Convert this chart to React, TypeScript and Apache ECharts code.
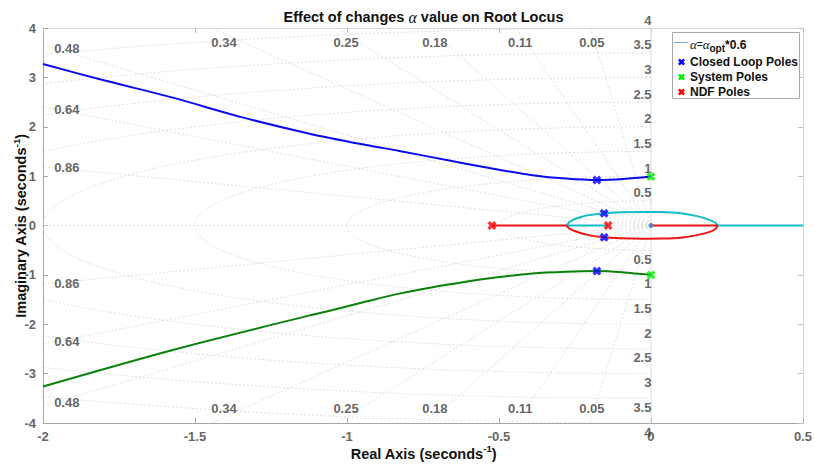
import React, { useEffect, useRef } from "react";
import * as echarts from "echarts";

const SANS = "'Liberation Sans', Arial, Helvetica, sans-serif";
const SERIF = "'Liberation Serif', 'Times New Roman', serif";

// s-plane grid: damping ratios (radial lines) and natural frequencies (circles)
const dampingRatios = [0.05, 0.11, 0.18, 0.25, 0.34, 0.48, 0.64, 0.86];
const naturalFrequencies = [0.5, 1, 1.5, 2, 2.5, 3, 3.5, 4];

// Complex-pair branches leaving the system poles at ±j
const upperBranch: number[][] = [
  [-2.0, 3.27], [-1.8, 2.94], [-1.573, 2.59], [-1.35, 2.2], [-1.123, 1.86],
  [-0.937, 1.63], [-0.828, 1.51], [-0.718, 1.38], [-0.609, 1.25], [-0.5, 1.13],
  [-0.39, 1.02], [-0.28, 0.95], [-0.178, 0.92], [-0.09, 0.94], [0, 0.99],
];
const lowerBranch: number[][] = [
  [-2.0, -3.26], [-1.573, -2.52], [-1.123, -1.82], [-1.047, -1.71], [-0.937, -1.54],
  [-0.828, -1.38], [-0.718, -1.25], [-0.609, -1.14], [-0.5, -1.045], [-0.39, -0.97],
  [-0.28, -0.935], [-0.178, -0.923], [-0.09, -0.95], [0, -1.0],
];

// Breakaway loop near the origin
const upperLoop: number[][] = [
  [-0.277, 0], [-0.27, 0.06], [-0.253, 0.125], [-0.23, 0.172], [-0.209, 0.205],
  [-0.154, 0.247], [-0.1, 0.266], [-0.03, 0.274], [0.03, 0.272], [0.098, 0.25],
  [0.152, 0.19], [0.196, 0.105], [0.213, 0.05], [0.22, 0],
];
const lowerLoop: number[][] = [
  [-0.277, 0], [-0.27, -0.055], [-0.253, -0.105], [-0.209, -0.19], [-0.154, -0.24],
  [-0.1, -0.26], [-0.03, -0.268], [0.04, -0.265], [0.098, -0.247], [0.152, -0.195],
  [0.196, -0.125], [0.213, -0.06], [0.22, 0],
];

// Real-axis segments of the loop branches
const cyanAxisLeft: number[][] = [[-0.141, 0], [-0.277, 0]];
const cyanAxisRight: number[][] = [[0.22, 0], [0.5, 0]];
const redAxisLeft: number[][] = [[-0.523, 0], [-0.277, 0]];
const redAxisRight: number[][] = [[0.22, 0], [0, 0]];

// Pole sets
const closedLoopPoles: number[][] = [[-0.178, 0.92], [-0.178, -0.923], [-0.154, 0.247], [-0.154, -0.24]];
const systemPoles: number[][] = [[0, 0.99], [0, -1.0]];
const ndfPoles: number[][] = [[-0.523, 0], [-0.141, 0]];
const originPoint: number[][] = [[0, 0]];

const CROSS_PTS = [
  [0, 2.6], [2.6, 0], [5, 2.4], [7.4, 0], [10, 2.6], [7.6, 5], [10, 7.4], [7.4, 10],
  [5, 7.6], [2.6, 10], [0, 7.4], [2.4, 5],
];
const CROSS = "path://M" + CROSS_PTS.map((p) => p.join(",")).join(" L") + " Z";

function crossPoints(cx: number, cy: number, s: number): number[][] {
  return CROSS_PTS.map(([x, y]) => [cx + ((x - 5) * s) / 10, cy + ((y - 5) * s) / 10]);
}

function buildOption() {
  const gridLine = { color: "#d8d8d8", width: 0.8, type: [2, 2] };
  const series: any[] = [];

  // damping-ratio rays (upper and lower half plane)
  dampingRatios.forEach((z) => {
    const w = Math.sqrt(1 - z * z);
    [1, -1].forEach((s) =>
      series.push({
        type: "line", data: [[0, 0], [-10 * z, s * 10 * w]], showSymbol: false,
        silent: true, lineStyle: gridLine, z: 1,
      })
    );
  });
  // ζ = 1 (negative real axis) and ζ = 0 (imaginary axis)
  series.push({ type: "line", data: [[0, 0], [-10, 0]], showSymbol: false, silent: true, lineStyle: gridLine, z: 1 });
  series.push({
    type: "line", data: [[0, -10], [0, 10]], showSymbol: false, silent: true,
    lineStyle: { color: "#dadada", width: 1 }, z: 1,
  });
  // natural-frequency semicircles in the left half plane
  naturalFrequencies.forEach((wn) => {
    const pts: number[][] = [];
    for (let deg = 90; deg <= 270; deg += 2) {
      const t = (deg * Math.PI) / 180;
      pts.push([wn * Math.cos(t), wn * Math.sin(t)]);
    }
    series.push({ type: "line", data: pts, showSymbol: false, silent: true, lineStyle: gridLine, z: 1 });
  });

  // grid labels
  const labelStyle = { color: "#3c3c3c", fontWeight: "bold", fontSize: 13, fontFamily: SANS };
  const dampingLabels: any[] = [];
  dampingRatios.forEach((z) => {
    const k = Math.sqrt(1 - z * z) / z;
    [1, -1].forEach((s) => {
      if (4 / k <= 2) {
        dampingLabels.push({ value: [(-1.05 * 3.7) / k, s * 3.7], name: String(z), label: { position: "inside" } });
      } else {
        dampingLabels.push({ value: [-1.965, s * 1.965 * k], name: String(z), label: { position: "right", distance: 0 } });
      }
    });
  });
  series.push({
    type: "scatter", data: dampingLabels, symbolSize: 1, itemStyle: { color: "transparent" },
    silent: true, clip: false, z: 4,
    label: { show: true, formatter: (p: any) => p.name, ...labelStyle },
  });
  const freqLabels: any[] = [];
  naturalFrequencies.forEach((wn) => {
    freqLabels.push({ value: [0, wn], name: String(wn), label: { offset: [1, -8] } });
    freqLabels.push({ value: [0, -wn], name: String(wn), label: { offset: [1, 9] } });
  });
  series.push({
    type: "scatter", data: freqLabels, symbolSize: 1, itemStyle: { color: "transparent" },
    silent: true, clip: false, z: 4,
    label: { show: true, position: "left", distance: 0, formatter: (p: any) => p.name, ...labelStyle },
  });

  // locus branches
  const branch = (data: number[][], color: string, smooth: number | boolean) => ({
    type: "line", data, showSymbol: false, smooth, silent: true, z: 3,
    lineStyle: { color, width: 2 },
  });
  series.push(branch(upperBranch, "#0a0aee", 0.3));
  series.push(branch(lowerBranch, "#0a820a", 0.3));
  series.push(branch(cyanAxisLeft, "#14bcc8", false));
  series.push(branch(cyanAxisRight, "#14bcc8", false));
  series.push(branch(upperLoop, "#14bcc8", 0.3));
  series.push(branch(redAxisLeft, "#ee1414", false));
  series.push(branch(redAxisRight, "#ee1414", false));
  series.push(branch(lowerLoop, "#ee1414", 0.3));

  // pole markers
  const marks = (data: number[][], color: string) => ({
    type: "scatter", data, symbol: CROSS, symbolSize: 9, itemStyle: { color },
    silent: true, clip: false, z: 6,
  });
  series.push(marks(closedLoopPoles, "#0000ff"));
  series.push(marks(systemPoles, "#00ee00"));
  series.push(marks(ndfPoles, "#ff0000"));
  series.push({
    type: "scatter", data: originPoint, symbol: "circle", symbolSize: 5,
    itemStyle: { color: "#4a78c0" }, silent: true, z: 6,
  });

  const axisBase = {
    type: "value",
    splitLine: { show: false },
  };
  const tickLabel = { color: "#666", fontWeight: "bold", fontSize: 13, fontFamily: SANS, margin: 7 };

  const supRich = {
    b: { fontFamily: SANS, fontWeight: "bold", fontSize: 14.5, fill: "#111", color: "#111", lineHeight: 20 },
    sup: { fontFamily: SANS, fontWeight: "bold", fontSize: 9.5, fill: "#111", color: "#111", lineHeight: 10, verticalAlign: "top" },
  };

  const legendRowY = [42.5, 62, 77, 92];
  const legendColors = ["#0000ff", "#00ee00", "#ff0000"];
  const legendNames = ["Closed Loop Poles", "System Poles", "NDF Poles"];

  const graphic: any[] = [
    {
      type: "text", x: 423.5, y: 17, z: 100,
      style: {
        text: "{b|Effect of changes }{a|α}{b| value on Root Locus}",
        align: "center", textAlign: "center", verticalAlign: "middle", textVerticalAlign: "middle",
        rich: {
          b: { fontFamily: SANS, fontWeight: "bold", fontSize: 14.5, fill: "#111", color: "#111" },
          a: { fontFamily: SERIF, fontStyle: "italic", fontSize: 16, fill: "#111", color: "#111" },
        },
      },
    },
    {
      type: "text", x: 423.5, y: 453.5, z: 100,
      style: {
        text: "{b|Real Axis (seconds}{sup|-1}{b|)}",
        align: "center", textAlign: "center", verticalAlign: "middle", textVerticalAlign: "middle",
        rich: supRich,
      },
    },
    {
      type: "text", x: 21, y: 226, rotation: Math.PI / 2, z: 100,
      style: {
        text: "{b|Imaginary Axis (seconds}{sup|-1}{b|)}",
        align: "center", textAlign: "center", verticalAlign: "middle", textVerticalAlign: "middle",
        rich: supRich,
      },
    },
    {
      type: "rect", z: 100,
      shape: { x: 672.5, y: 32.5, width: 127, height: 66 },
      style: { fill: "#fff", stroke: "#a8a8a8", lineWidth: 1 },
    },
    {
      type: "line", z: 101,
      shape: { x1: 674, y1: legendRowY[0], x2: 688, y2: legendRowY[0] },
      style: { stroke: "#7fa6d4", lineWidth: 1 },
    },
    {
      type: "text", x: 690, y: legendRowY[0] + 2, z: 101,
      style: {
        text: "{a|α}{e|=}{a|α}{s|opt}{b|*0.6}",
        align: "left", textAlign: "left", verticalAlign: "middle", textVerticalAlign: "middle",
        rich: {
          a: { fontFamily: SERIF, fontStyle: "italic", fontSize: 13, fill: "#111", color: "#111", lineHeight: 18, verticalAlign: "middle" },
          e: { fontFamily: SANS, fontSize: 10, fill: "#111", color: "#111", lineHeight: 18, verticalAlign: "middle" },
          s: { fontFamily: SANS, fontWeight: "bold", fontSize: 10, fill: "#111", color: "#111", lineHeight: 6, verticalAlign: "bottom" },
          b: { fontFamily: SANS, fontWeight: "bold", fontSize: 12, fill: "#111", color: "#111", lineHeight: 18, verticalAlign: "middle" },
        },
      },
    },
  ];
  legendNames.forEach((name, i) => {
    graphic.push({
      type: "polygon", z: 101,
      shape: { points: crossPoints(681.5, legendRowY[i + 1], 7) },
      style: { fill: legendColors[i] },
    });
    graphic.push({
      type: "text", x: 690, y: legendRowY[i + 1], z: 101,
      style: {
        text: name, fill: "#111", font: `bold 12px ${SANS}`,
        fontFamily: SANS, fontWeight: "bold", fontSize: 12,
        align: "left", textAlign: "left", verticalAlign: "middle", textVerticalAlign: "middle",
      },
    });
  });

  return {
    animation: false,
    backgroundColor: "#ffffff",
    grid: { left: 43, right: 11, top: 28, bottom: 43 },
    xAxis: [
      {
        ...axisBase, min: -2, max: 0.5, interval: 0.5, position: "bottom",
        axisLine: { show: true, onZero: false, lineStyle: { color: "#a6a6a6" } },
        axisTick: { show: true, inside: true, length: 5, lineStyle: { color: "#a6a6a6" } },
        axisLabel: tickLabel,
      },
      {
        ...axisBase, min: -2, max: 0.5, interval: 0.5, position: "top",
        axisLine: { show: true, onZero: false, lineStyle: { color: "#d8d8d8" } },
        axisTick: { show: true, inside: true, length: 5, lineStyle: { color: "#bdbdbd" } },
        axisLabel: { show: false },
      },
    ],
    yAxis: [
      {
        ...axisBase, min: -4, max: 4, interval: 1, position: "left",
        axisLine: { show: true, onZero: false, lineStyle: { color: "#a6a6a6" } },
        axisTick: { show: true, inside: true, length: 5, lineStyle: { color: "#a6a6a6" } },
        axisLabel: tickLabel,
      },
      {
        ...axisBase, min: -4, max: 4, interval: 1, position: "right",
        axisLine: { show: true, onZero: false, lineStyle: { color: "#d8d8d8" } },
        axisTick: { show: true, inside: true, length: 5, lineStyle: { color: "#bdbdbd" } },
        axisLabel: { show: false },
      },
    ],
    series: series.map((s) => ({ xAxisIndex: 0, yAxisIndex: 0, animation: false, ...s })),
    graphic,
  };
}

export default function App() {
  const ref = useRef<HTMLDivElement>(null);
  useEffect(() => {
    if (!ref.current) return;
    const chart = echarts.init(ref.current, undefined, { renderer: "svg" });
    chart.setOption(buildOption() as any);
    return () => chart.dispose();
  }, []);
  return (
    <div
      ref={ref}
      style={{ position: "fixed", left: 0, top: 0, width: 815, height: 466, background: "#fff" }}
    />
  );
}
